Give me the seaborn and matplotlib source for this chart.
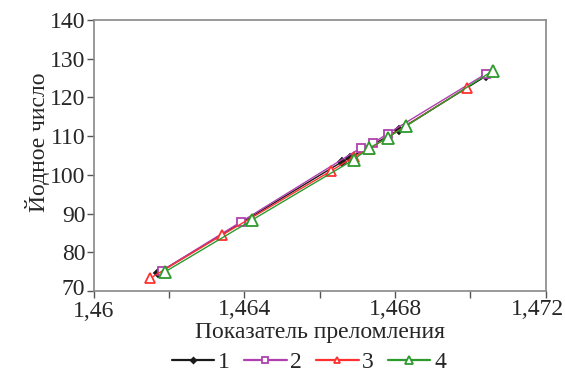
import matplotlib
matplotlib.use("Agg")
import matplotlib.pyplot as plt
import matplotlib.transforms as mtransforms
import seaborn as sns
import pandas as pd
from matplotlib.ticker import MultipleLocator, FuncFormatter

sns.set_style("ticks")
plt.rcParams['font.family'] = 'serif'
plt.rcParams['font.serif'] = ['Liberation Serif', 'DejaVu Serif']

s1_x = [1.4617, 1.4666, 1.4668, 1.4681, 1.4704]
s1_y = [74.6, 103.4, 104.4, 111.6, 125.4]
s2_x = [1.4618, 1.4639, 1.4671, 1.4674, 1.4678, 1.4704]
s2_y = [75.2, 87.8, 107.0, 108.1, 110.6, 126.0]
s3_x = [1.4615, 1.4634, 1.4663, 1.4669, 1.4673, 1.4699]
s3_y = [73.3, 84.4, 101.0, 104.6, 106.6, 122.5]
s4_x = [1.4619, 1.4642, 1.4669, 1.4673, 1.4678, 1.4683, 1.4706]
s4_y = [75.0, 88.3, 103.9, 106.8, 109.6, 112.6, 126.9]
labels = ["1", "2", "3", "4"]

series = [(s1_x, s1_y), (s2_x, s2_y), (s3_x, s3_y), (s4_x, s4_y)]
colors = ["#1a1a1a", "#b040b0", "#ff3030", "#2e9a2e"]
markers = ["D", "s", "^", "^"]
msizes = [4, 6, 7, 8]
filled = [True, False, False, False]

fig = plt.figure(figsize=(5.65, 3.74), dpi=100)
ax = fig.add_axes([0.166, 0.222, 0.8, 0.725])

for (xs, ys), lab, c, m, ms, f in zip(series, labels, colors, markers, msizes, filled):
    df = pd.DataFrame({"x": xs, "y": ys})
    sns.lineplot(data=df, x="x", y="y", ax=ax, color=c, marker=m, markersize=ms,
                 markerfacecolor=c if f else "white", markeredgecolor=c,
                 markeredgewidth=1.3, linewidth=1.0, label=lab, sort=True)

ax.set_xlim(1.46, 1.472)
ax.set_ylim(70, 140)
ax.set_xticks([1.460, 1.464, 1.468, 1.472])
ax.xaxis.set_minor_locator(MultipleLocator(0.002))
ax.set_yticks([70, 80, 90, 100, 110, 120, 130, 140])
ax.xaxis.set_major_formatter(FuncFormatter(lambda v, p: f"{v:.3f}".rstrip("0").replace(".", ",")))
ax.tick_params(axis="both", which="major", labelsize=17, length=5, width=1, color="#555555", pad=1)
ax.tick_params(axis="x", which="minor", length=5, width=1, color="#555555")
for sp in ax.spines.values():
    sp.set_color("#888888")
    sp.set_linewidth(1.2)

ax.set_xlabel("Показатель преломления", fontsize=17, labelpad=0)
ax.set_ylabel("Йодное число", fontsize=17)
ax.yaxis.set_label_coords(-0.096, 0.55)

leg = ax.legend(loc="center", bbox_to_anchor=(0.476, -0.262), ncol=4, frameon=False,
                fontsize=17, handlelength=1.8, columnspacing=0.6, handletextpad=0.15,
                markerscale=0.7, borderaxespad=0, borderpad=0)
for h in leg.get_lines():
    h.set_linewidth(1.6)

fig.canvas.draw()
for lbl in ax.get_xticklabels():
    if lbl.get_text() == "1,472":
        shift = mtransforms.ScaledTranslation(-8 / 100, 0, fig.dpi_scale_trans)
        lbl.set_transform(lbl.get_transform() + shift)
    if lbl.get_text() == "1,46":
        shift = mtransforms.ScaledTranslation(0, -2 / 100, fig.dpi_scale_trans)
        lbl.set_transform(lbl.get_transform() + shift)
for lbl in ax.get_yticklabels():
    if lbl.get_text() == "70":
        shift = mtransforms.ScaledTranslation(0, 4 / 100, fig.dpi_scale_trans)
        lbl.set_transform(lbl.get_transform() + shift)

fig.savefig("out.png", dpi=100)
